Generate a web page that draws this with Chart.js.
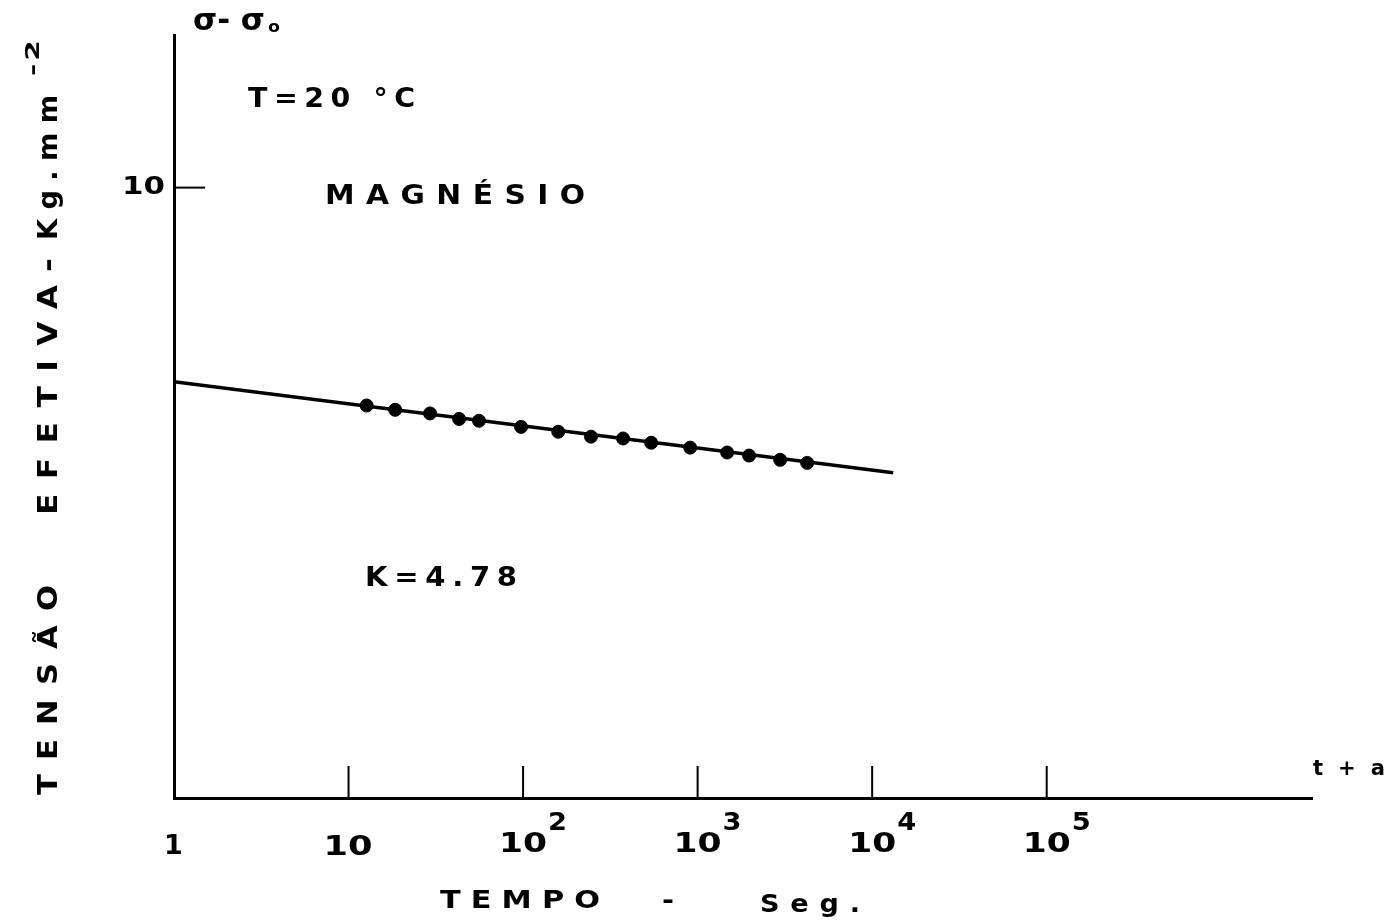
<!DOCTYPE html>
<html>
<head>
<meta charset="utf-8">
<script src="https://cdn.jsdelivr.net/npm/chart.js@4"></script>
<style>
  html, body { margin: 0; padding: 0; background: #fff; }
  canvas { display: block; }
</style>
</head>
<body>
<canvas id="chart" width="1389" height="920"></canvas>
<script>
// Magnésio — tensão efetiva vs tempo (t + a), log x

const xDecades = [1, 10, 100, 1000, 10000, 100000];
const xDecadeExp = ['', '', '2', '3', '4', '5'];
const yTicks = [10];

// measured points (seconds, kg/mm²)
const timeSec = [12.7, 18.5, 29.3, 43.0, 55.9, 97.4, 159, 245, 374, 542, 906, 1476, 1972, 2971, 4244];
const stress  = [6.43, 6.36, 6.30, 6.21, 6.18, 6.08, 6.00, 5.92, 5.89, 5.82, 5.74, 5.66, 5.61, 5.54, 5.49];

// fitted line end points
const fitTime = [1, 13200];
const fitStress = [6.82, 5.33];

const FONT = '"DejaVu Sans", "Liberation Sans", sans-serif';

// draw text stretched so it spans `width` px (old typewriter lettering is wide)
function txt(ctx, s, x, y, size, width, spacing) {
  ctx.save();
  ctx.font = `bold ${size}px ${FONT}`;
  ctx.letterSpacing = (spacing || 0) + 'px';
  ctx.textAlign = 'left';
  ctx.textBaseline = 'middle';
  let w = ctx.measureText(s).width - (spacing || 0);
  const sx = width ? width / w : 1;
  ctx.translate(x, y);
  ctx.scale(sx, 1);
  ctx.fillText(s, 0, 0);
  ctx.restore();
}

const decor = {
  id: 'decor',
  afterDraw(chart) {
    const { ctx, scales: { x, y }, chartArea: a } = chart;
    ctx.save();
    ctx.fillStyle = '#000';
    ctx.strokeStyle = '#000';

    // decade ticks pointing up from the axis
    ctx.lineWidth = 2;
    xDecades.forEach(v => {
      if (v === 1) return;
      const px = x.getPixelForValue(v);
      ctx.beginPath();
      ctx.moveTo(px, a.bottom);
      ctx.lineTo(px, a.bottom - 32);
      ctx.stroke();
    });
    // decade labels
    xDecades.forEach((v, i) => {
      const px = x.getPixelForValue(v);
      if (v === 1) {
        txt(ctx, '1', px - 10, a.bottom + 49, 27);
      } else if (!xDecadeExp[i]) {
        txt(ctx, '10', px - 25, a.bottom + 50, 26, 49);
      } else {
        txt(ctx, '10', px - 24, a.bottom + 47, 26, 48);
        txt(ctx, xDecadeExp[i], px + 25, a.bottom + 26, 24, 19);
      }
    });

    // y tick
    yTicks.forEach(v => {
      const py = y.getPixelForValue(v);
      ctx.lineWidth = 2;
      ctx.beginPath();
      ctx.moveTo(a.left, py);
      ctx.lineTo(a.left + 31, py);
      ctx.stroke();
      txt(ctx, String(v), a.left - 52, py, 24, 43);
    });

    // axis titles
    txt(ctx, 'σ- σ', 193, 22, 30, 72);
    txt(ctx, 'o', 268, 28, 15, 12);

    txt(ctx, 't + a', 1313, 769, 22, 72, 4);

    txt(ctx, 'TEMPO', 440, 902, 24, 160, 8);
    txt(ctx, '-', 662, 902, 24, 12);
    txt(ctx, 'Seg.', 760, 905, 25, 100, 10);

    ctx.save();
    ctx.translate(50, 0);
    ctx.rotate(-Math.PI / 2);
    txt(ctx, 'TENSÃO', -795, 0, 26, 210, 12);
    txt(ctx, 'EFETIVA', -515, 0, 26, 230, 12);
    txt(ctx, '-', -272, 0, 26, 14);
    txt(ctx, 'Kg.mm', -240, 0, 26, 145, 9);
    txt(ctx, '-2', -76, -16, 20, 36, 2);
    ctx.restore();

    // annotations
    txt(ctx, 'T=20 °C', 248, 100, 26, 167, 6);
    txt(ctx, 'MAGNÉSIO', 325, 197, 26, 260, 10);
    txt(ctx, 'K=4.78', 365, 579, 26, 152, 6);

    ctx.restore();
  }
};

new Chart(document.getElementById('chart'), {
  type: 'scatter',
  data: {
    datasets: [
      {
        label: 'ajuste',
        data: fitTime.map((t, i) => ({ x: t, y: fitStress[i] })),
        showLine: true,
        borderColor: '#000',
        borderWidth: 3.5,
        pointRadius: 0
      },
      {
        label: 'Magnésio',
        data: timeSec.map((t, i) => ({ x: t, y: stress[i] })),
        backgroundColor: '#000',
        borderColor: '#000',
        pointRadius: 6.5,
        pointStyle: 'circle'
      }
    ]
  },
  options: {
    responsive: false,
    animation: false,
    layout: { padding: { left: 174, right: 77, top: 35, bottom: 122 } },
    plugins: { legend: { display: false }, tooltip: { enabled: false } },
    scales: {
      x: {
        type: 'logarithmic',
        min: 1,
        max: Math.pow(10, 6.52),
        grid: { display: false, drawTicks: false },
        ticks: { display: false },
        border: { display: true, color: '#000', width: 3 }
      },
      y: {
        type: 'linear',
        min: 0,
        max: 12.5,
        grid: { display: false, drawTicks: false },
        ticks: { display: false },
        border: { display: true, color: '#000', width: 3 }
      }
    }
  },
  plugins: [decor]
});
</script>
</body>
</html>
